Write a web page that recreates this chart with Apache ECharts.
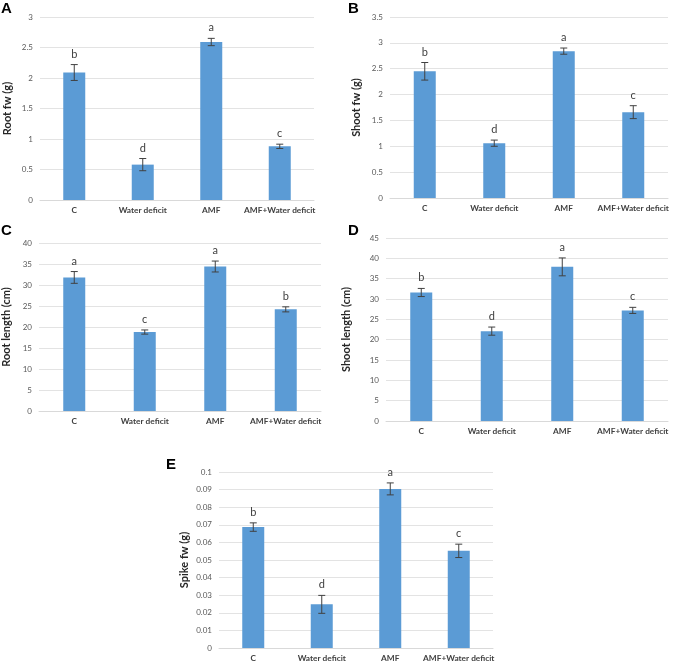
<!DOCTYPE html>
<html><head><meta charset="utf-8">
<script src="https://cdn.jsdelivr.net/npm/echarts@6/dist/echarts.min.js"></script>
<style>html,body{margin:0;padding:0;background:#fff}#c{width:673px;height:667px}</style>
</head><body><div id="c"></div>
<script>
const categories = ['C', 'Water deficit', 'AMF', 'AMF+Water deficit'];

const rootFw = [2.09, 0.58, 2.59, 0.88];
const rootFwErr = [0.13, 0.10, 0.06, 0.035];
const rootFwLetters = ['b', 'd', 'a', 'c'];

const shootFw = [2.45, 1.06, 2.84, 1.66];
const shootFwErr = [0.17, 0.06, 0.06, 0.125];
const shootFwLetters = ['b', 'd', 'a', 'c'];

const rootLength = [31.8, 18.8, 34.4, 24.2];
const rootLengthErr = [1.4, 0.5, 1.3, 0.6];
const rootLengthLetters = ['a', 'c', 'a', 'b'];

const shootLength = [31.6, 22.1, 37.9, 27.2];
const shootLengthErr = [1.0, 1.0, 2.2, 0.75];
const shootLengthLetters = ['b', 'd', 'a', 'c'];

const spikeFw = [0.0687, 0.0248, 0.0904, 0.0552];
const spikeFwErr = [0.0024, 0.0051, 0.0034, 0.0038];
const spikeFwLetters = ['b', 'd', 'a', 'c'];

const panels = [
  {tag: 'A', name: 'Root fw (g)', vals: rootFw, err: rootFwErr, let: rootFwLetters, max: 3, interval: 0.5,
   grid: {left: 40, top: 17, width: 274, height: 183}, gap: 27, tagPos: [1, 1]},
  {tag: 'B', name: 'Shoot fw (g)', vals: shootFw, err: shootFwErr, let: shootFwLetters, max: 3.5, interval: 0.5,
   grid: {left: 390, top: 17, width: 278, height: 181}, gap: 28, tagPos: [348, 1]},
  {tag: 'C', name: 'Root length (cm)', vals: rootLength, err: rootLengthErr, let: rootLengthLetters, max: 40, interval: 5,
   grid: {left: 35, top: 243, width: 286, height: 168}, gap: 27, tagPos: [1, 223]},
  {tag: 'D', name: 'Shoot length (cm)', vals: shootLength, err: shootLengthErr, let: shootLengthLetters, max: 45, interval: 5,
   grid: {left: 386, top: 238, width: 282, height: 183}, gap: 34, tagPos: [348, 223]},
  {tag: 'E', name: 'Spike fw (g)', vals: spikeFw, err: spikeFwErr, let: spikeFwLetters, max: 0.1, interval: 0.01,
   grid: {left: 219, top: 472, width: 274, height: 176}, gap: 29, tagPos: [166, 457]}
];

const FONT = 'Lato, "Open Sans", sans-serif';
const grids = [], xAxes = [], yAxes = [], series = [], graphics = [];

panels.forEach((p, i) => {
  grids.push(Object.assign({containLabel: false}, p.grid));
  xAxes.push({
    type: 'category', gridIndex: i, data: categories,
    axisLine: {lineStyle: {color: '#d9d9d9'}}, axisTick: {show: false},
    axisLabel: {color: '#404040', fontFamily: FONT, fontWeight: 'bold', fontSize: 8.3, margin: 6, interval: 0}
  });
  yAxes.push({
    type: 'value', gridIndex: i, min: 0, max: p.max, interval: p.interval,
    name: p.name, nameLocation: 'middle', nameRotate: 90, nameGap: p.gap,
    nameTextStyle: {color: '#262626', fontFamily: FONT, fontWeight: 'bold', fontSize: 11},
    axisLine: {show: false}, axisTick: {show: false},
    splitLine: {lineStyle: {color: '#e3e3e3', width: 1}},
    axisLabel: {color: '#595959', fontFamily: FONT, fontSize: 8, margin: 7,
      formatter: v => String(+v.toFixed(3))}
  });
  series.push({
    type: 'bar', xAxisIndex: i, yAxisIndex: i, data: p.vals, barWidth: 22,
    itemStyle: {color: '#5b9bd5'}, silent: true
  });
  series.push({
    type: 'custom', xAxisIndex: i, yAxisIndex: i, z: 5,
    data: p.vals.map((v, k) => [k, v, p.err[k], p.let[k]]),
    renderItem: (params, api) => {
      const k = api.value(0), v = api.value(1), e = api.value(2);
      const top = api.coord([k, v + e]);
      const bot = api.coord([k, v - e]);
      const hw = 3.5;
      const st = {stroke: '#404040', lineWidth: 1};
      return {type: 'group', children: [
        {type: 'line', shape: {x1: top[0], y1: top[1], x2: bot[0], y2: bot[1]}, style: st},
        {type: 'line', shape: {x1: top[0] - hw, y1: top[1], x2: top[0] + hw, y2: top[1]}, style: st},
        {type: 'line', shape: {x1: bot[0] - hw, y1: bot[1], x2: bot[0] + hw, y2: bot[1]}, style: st},
        {type: 'text', style: {text: p.let[k], x: top[0], y: top[1] - 5, align: 'center', verticalAlign: 'bottom',
          fill: '#404040', font: '11px ' + FONT}}
      ]};
    }
  });
  graphics.push({type: 'text', left: p.tagPos[0], top: p.tagPos[1],
    style: {text: p.tag, fill: '#000', font: 'bold 15px Arial, "Liberation Sans", sans-serif'}});
});

const chart = echarts.init(document.getElementById('c'), null, {renderer: 'canvas'});
chart.setOption({
  animation: false, backgroundColor: '#fff',
  grid: grids, xAxis: xAxes, yAxis: yAxes, series: series, graphic: graphics
});
</script></body></html>
